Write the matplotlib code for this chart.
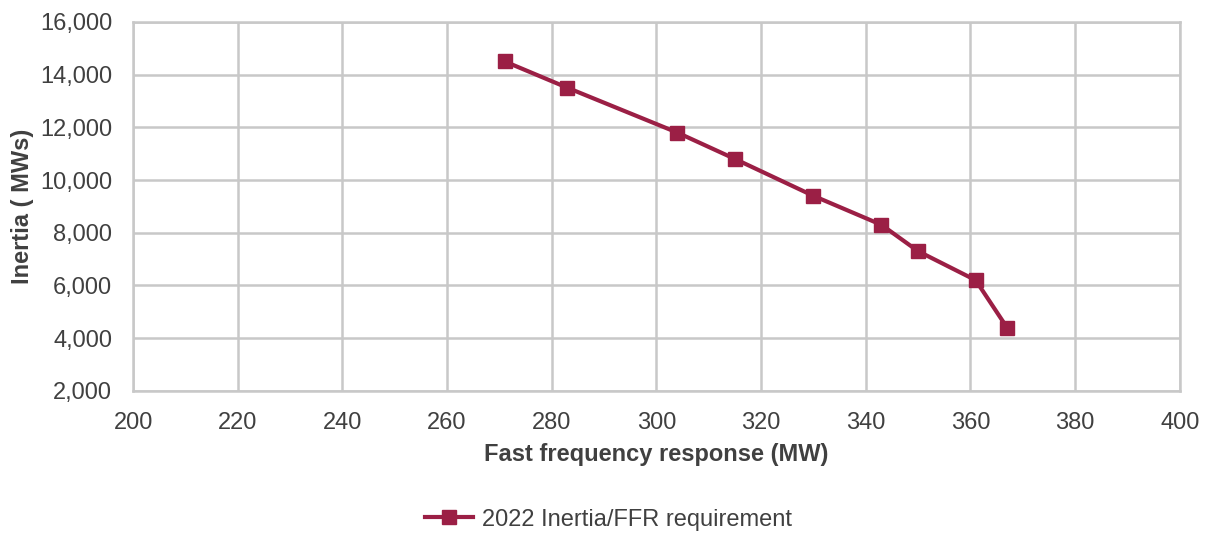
import matplotlib
matplotlib.use('Agg')
import matplotlib.pyplot as plt
from matplotlib.ticker import FuncFormatter

plt.rcParams['font.family'] = ['Liberation Sans', 'DejaVu Sans']

# 2022 inertia vs FFR requirement
ffr_mw = [271, 283, 304, 315, 330, 343, 350, 361, 367]
inertia_mws = [14500, 13500, 11800, 10800, 9400, 8300, 7300, 6200, 4400]
series_label = '2022 Inertia/FFR requirement'

line_col = '#9B1F45'
text_col = '#404040'
grid_col = '#C8C8C8'

fig = plt.figure(figsize=(12.1, 5.34), dpi=100)
ax = fig.add_axes([0.11, 0.268, 0.865, 0.691])

ax.plot(ffr_mw, inertia_mws, color=line_col, lw=3, marker='s', ms=10,
        label=series_label, zorder=3)

ax.set_xlim(200, 400)
ax.set_ylim(2000, 16000)
ax.set_xticks(range(200, 401, 20))
ax.set_yticks(range(2000, 16001, 2000))
ax.yaxis.set_major_formatter(FuncFormatter(lambda v, p: f'{int(v):,}'))

ax.grid(True, color=grid_col, lw=1.8)
ax.set_axisbelow(True)
for s in ax.spines.values():
    s.set_color(grid_col)
    s.set_linewidth(1.8)
ax.tick_params(length=0, labelsize=17, labelcolor=text_col)
ax.tick_params(axis='x', pad=15)
ax.tick_params(axis='y', pad=15)

ax.set_xlabel('Fast frequency response (MW)', fontsize=17, fontweight='bold',
              color=text_col, labelpad=7)
ax.set_ylabel('Inertia ( MWs)', fontsize=17, fontweight='bold',
              color=text_col, labelpad=4)

fig.legend(loc='center', bbox_to_anchor=(0.503, 0.027), frameon=False,
           fontsize=17, labelcolor=text_col, handlelength=2.0,
           handletextpad=0.4)

plt.savefig('out.png', dpi=100)
